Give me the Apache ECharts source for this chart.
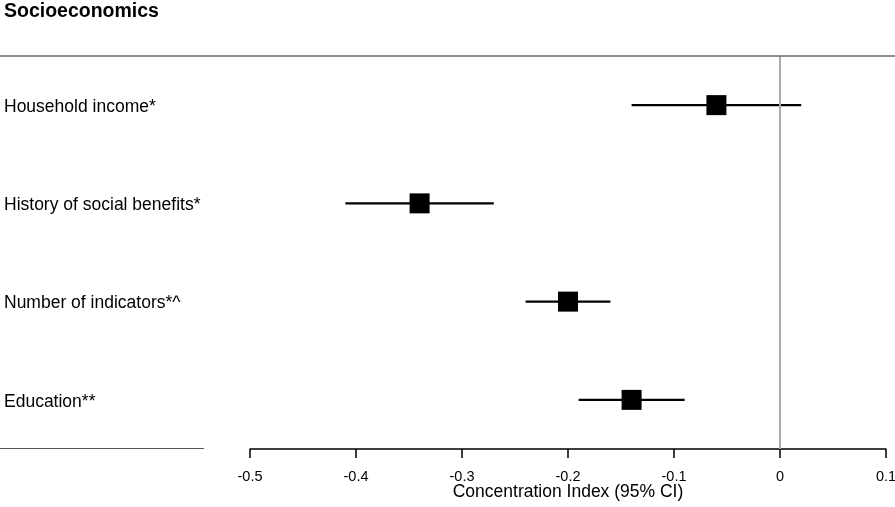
<!DOCTYPE html>
<html>
<head>
<meta charset="utf-8">
<script src="https://cdn.jsdelivr.net/npm/echarts@6/dist/echarts.min.js"></script>
<style>html,body{margin:0;padding:0;background:#fff}#c{width:895px;height:507px}</style>
</head>
<body>
<div id="c"></div>
<script>
var categories = ['Household income*', 'History of social benefits*', 'Number of indicators*^', 'Education**'];
var estimates = [-0.06, -0.34, -0.20, -0.14];
var lower = [-0.14, -0.41, -0.24, -0.19];
var upper = [0.02, -0.27, -0.16, -0.09];
var tickLabels = ['-0.5', '-0.4', '-0.3', '-0.2', '-0.1', '0', '0.1'];
var tickValues = [-0.5, -0.4, -0.3, -0.2, -0.1, 0, 0.1];

var FONT = '"Liberation Sans", Arial, Helvetica, sans-serif';
var chart = echarts.init(document.getElementById('c'), null, {renderer: 'canvas'});

var ciData = categories.map(function (c, i) { return [lower[i], upper[i], i]; });
var ptData = categories.map(function (c, i) { return [estimates[i], i]; });

chart.setOption({
  animation: false,
  backgroundColor: '#fff',
  textStyle: {fontFamily: FONT},
  title: {
    text: 'Socioeconomics', left: -1, top: -3,
    textStyle: {fontFamily: FONT, fontWeight: 'bold', fontSize: 19.5, color: '#000'}
  },
  grid: {left: 250, right: 9, top: 56, bottom: 58, containLabel: false, outerBoundsMode: 'none'},
  xAxis: {
    type: 'value', min: -0.5, max: 0.1, interval: 0.1,
    splitLine: {show: false},
    axisLine: {show: true, onZero: false, lineStyle: {color: '#000', width: 1.5}},
    axisTick: {show: true, length: 9, lineStyle: {color: '#000', width: 1.5}},
    axisLabel: {
      margin: 20, fontSize: 14.5, color: '#000', fontFamily: FONT,
      formatter: function (v) {
        for (var i = 0; i < tickValues.length; i++) {
          if (Math.abs(tickValues[i] - v) < 1e-9) return tickLabels[i];
        }
        return '';
      }
    },
    name: 'Concentration Index (95% CI)', nameLocation: 'middle', nameGap: 34, nameMoveOverlap: false,
    nameTextStyle: {fontSize: 17.5, color: '#000', fontFamily: FONT}
  },
  yAxis: {
    type: 'category', data: categories, inverse: true,
    axisLine: {show: false}, axisTick: {show: false}, splitLine: {show: false},
    axisLabel: {align: 'left', margin: 246, fontSize: 17.5, color: '#000', fontFamily: FONT,
                verticalAlign: 'top', lineHeight: 4}
  },
  graphic: [
    {type: 'line', shape: {x1: 0, y1: 56, x2: 895, y2: 56}, style: {stroke: '#666', lineWidth: 1.5}, z: 10},
    {type: 'line', shape: {x1: 0, y1: 448.5, x2: 204, y2: 448.5}, style: {stroke: '#555', lineWidth: 1}, z: 10}
  ],
  series: [
    {
      type: 'custom',
      data: ciData,
      renderItem: function (params, api) {
        var p1 = api.coord([api.value(0), api.value(2)]);
        var p2 = api.coord([api.value(1), api.value(2)]);
        return {type: 'line', shape: {x1: p1[0], y1: p1[1], x2: p2[0], y2: p2[1]},
                style: {stroke: '#000', lineWidth: 2.2}};
      },
      encode: {x: [0, 1], y: 2},
      z: 3
    },
    {
      type: 'scatter',
      data: ptData,
      symbol: 'rect', symbolSize: 20,
      itemStyle: {color: '#000', opacity: 1},
      z: 4,
      markLine: {
        silent: true, symbol: 'none', label: {show: false},
        lineStyle: {color: '#aaa', width: 2, type: 'solid'},
        data: [{xAxis: 0}]
      }
    }
  ]
});
</script>
</body>
</html>
